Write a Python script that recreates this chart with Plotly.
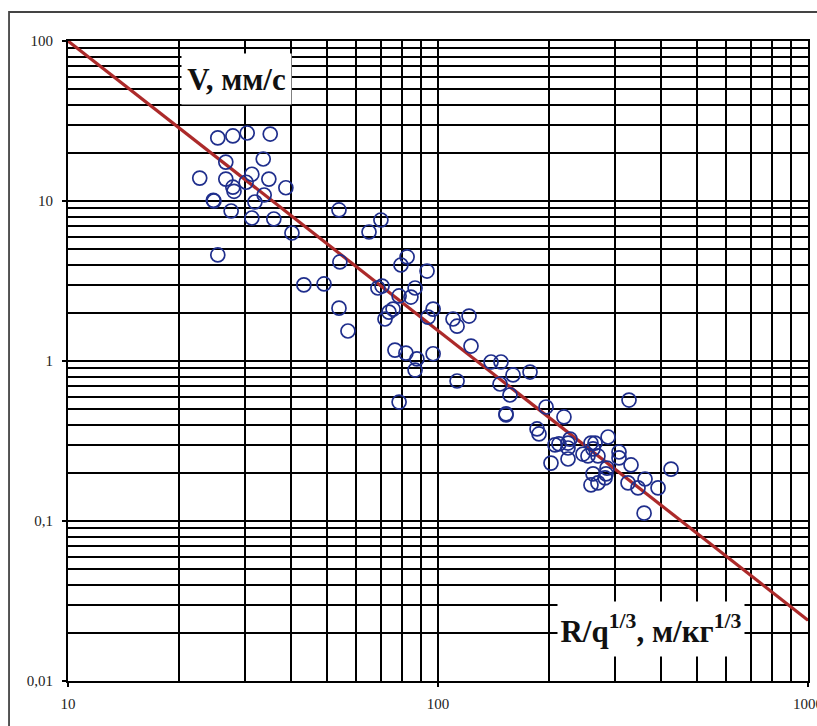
import numpy as np
import plotly.graph_objects as go

# Scaled distance R/q^(1/3), m/kg^(1/3)
scaled_distance = [
    25.4, 27.9, 30.5, 35.2, 26.7, 33.7, 22.7, 26.7, 31.4, 34.9,
    30.3, 27.9, 28.1, 38.8, 33.9, 24.7, 24.8, 32.0, 27.6, 31.4,
    36.0, 40.3, 25.4,
    54.0, 70.1, 65.1, 54.3, 82.5, 79.4, 93.4, 43.4, 49.2, 68.8,
    70.6, 86.7, 78.5, 84.5, 54.0, 75.6, 97.0, 73.7, 71.9, 94.0,
    57.1, 109.8, 112.6, 121.3, 122.8, 76.5, 81.9, 87.7, 86.7, 97.0,
    112.6, 78.5,
    139.1, 148.0, 159.5, 177.3, 147.1, 156.5, 152.7, 152.7, 195.9, 219.0,
    185.2, 187.5, 328.3,
    288.1, 207.1, 212.3, 224.6, 227.4, 224.6, 202.0, 224.6, 246.5, 254.3,
    259.1, 265.7, 262.4, 270.6, 308.5, 308.5, 332.4, 426.4, 286.3, 284.5,
    262.4, 282.8, 270.6, 259.1, 326.3, 362.7, 347.2, 393.3, 360.6,
]

# Peak particle velocity V, mm/s
velocity = [
    24.8, 25.5, 26.6, 26.2, 17.5, 18.3, 13.9, 13.7, 14.7, 13.7,
    13.1, 12.2, 11.5, 12.1, 10.9, 10.1, 10.0, 9.86, 8.66, 7.83,
    7.72, 6.31, 4.60,
    8.79, 7.61, 6.40, 4.16, 4.47, 3.98, 3.65, 2.99, 3.03, 2.86,
    2.94, 2.86, 2.55, 2.51, 2.14, 2.11, 2.11, 2.02, 1.83, 1.88,
    1.54, 1.83, 1.65, 1.91, 1.24, 1.17, 1.12, 1.03, 0.878, 1.11,
    0.750, 0.554,
    0.986, 0.986, 0.818, 0.853, 0.718, 0.613, 0.467, 0.460, 0.516, 0.447,
    0.376, 0.350, 0.570,
    0.335, 0.299, 0.303, 0.307, 0.325, 0.286, 0.230, 0.244, 0.262, 0.255,
    0.307, 0.307, 0.282, 0.255, 0.270, 0.248, 0.224, 0.211, 0.214, 0.197,
    0.197, 0.186, 0.173, 0.168, 0.173, 0.183, 0.161, 0.161, 0.112,
]

# Power-law fit V = K * (R/q^(1/3))^(-n)
fit_exponent = 1.81
fit_coefficient = 100.0 * 10.0 ** fit_exponent
fit_x = np.array([10.0, 1000.0])
fit_v = fit_coefficient * fit_x ** (-fit_exponent)

x_major = [10, 100, 1000]
x_major_text = ["10", "100", "1000"]
y_major = [0.01, 0.1, 1, 10, 100]
y_major_text = ["0,01", "0,1", "1", "10", "100"]

x_minor = [d * m for d in (10, 100) for m in range(2, 10)]
y_minor = [d * m for d in (0.01, 0.1, 1, 10) for m in range(2, 10)]

GRID = "#000000"
GRID_W = 1.8
TICK_FONT = dict(family="Liberation Serif, Times New Roman, serif", size=15, color="#222")
TITLE_FONT = dict(family="Liberation Serif, Times New Roman, serif", size=31, color="#111")

fig = go.Figure()

fig.add_trace(go.Scatter(
    x=fit_x, y=fit_v, mode="lines",
    line=dict(color="#AC2A2A", width=3.2),
    hoverinfo="skip", showlegend=False,
))

fig.add_trace(go.Scatter(
    x=scaled_distance, y=velocity, mode="markers",
    marker=dict(symbol="circle-open", size=14, color="#1F2E8C",
                line=dict(width=1.7, color="#1F2E8C")),
    showlegend=False,
))

axis_common = dict(
    type="log",
    automargin=False,
    showgrid=True, gridcolor=GRID, gridwidth=GRID_W,
    showline=True, mirror=True, linecolor=GRID, linewidth=GRID_W,
    zeroline=False,
    ticks="outside", ticklen=4, tickwidth=1.6, tickcolor=GRID,
    tickfont=TICK_FONT,
    tickmode="array",
    ticklabeloverflow="allow",
)

fig.update_xaxes(
    **axis_common,
    range=[1, 3],
    tickvals=x_major, ticktext=x_major_text,
    ticklabelstandoff=4,
    minor=dict(tickmode="array", tickvals=x_minor, showgrid=True,
               gridcolor=GRID, gridwidth=GRID_W, ticks=""),
)
fig.update_yaxes(
    **axis_common,
    range=[-2, 2],
    tickvals=y_major, ticktext=y_major_text,
    ticklabelstandoff=6,
    minor=dict(tickmode="array", tickvals=y_minor, showgrid=True,
               gridcolor=GRID, gridwidth=GRID_W, ticks=""),
)

# outer frame around the whole chart
fig.add_shape(type="rect", xref="paper", yref="paper",
              x0=-0.0797, y0=-0.2, x1=1.2, y1=1.0453,
              line=dict(color="#444", width=1.8), fillcolor="rgba(0,0,0,0)",
              layer="above")

fig.add_annotation(
    xref="paper", yref="paper", x=0.2277, y=0.9406,
    text="<b>V, мм/с</b>", showarrow=False,
    font=TITLE_FONT, bgcolor="white", width=107, height=48,
    xanchor="center", yanchor="middle",
)
fig.add_annotation(
    xref="paper", yref="paper", x=0.7878, y=0.0813,
    text="<b>R/q<sup>1/3</sup>, м/кг<sup>1/3</sup></b>", showarrow=False,
    font=TITLE_FONT, bgcolor="white", width=184, height=52,
    xanchor="center", yanchor="middle",
)

fig.update_layout(
    width=817, height=726,
    margin=dict(l=68, r=9, t=41, b=45, autoexpand=False),
    paper_bgcolor="white", plot_bgcolor="white",
    showlegend=False,
)

fig.write_html("out.html")
